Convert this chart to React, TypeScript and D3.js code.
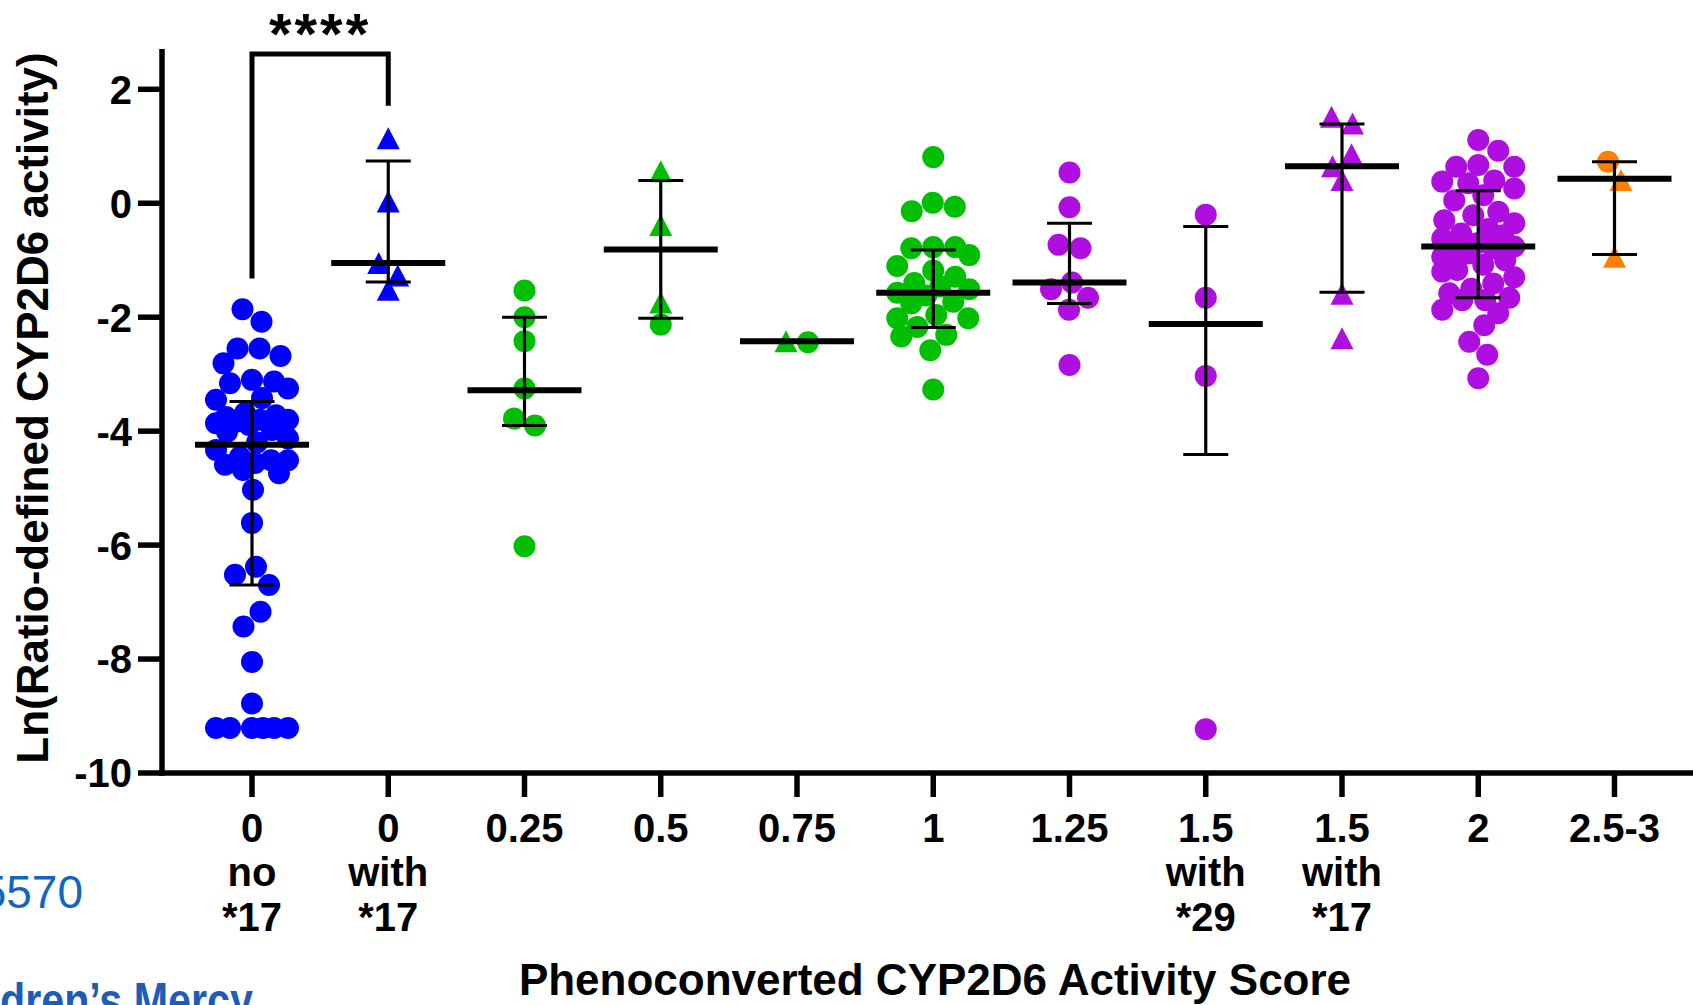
import React, { useEffect } from "react";
import * as d3 from "d3";

const W = 1693;
const H = 1005;

// ---------- categories & tick labels ----------
const categories = ["0no17", "0with17", "0.25", "0.5", "0.75", "1", "1.25", "1.5with29", "1.5with17", "2", "2.5-3"];
const labelLine1 = ["0", "0", "0.25", "0.5", "0.75", "1", "1.25", "1.5", "1.5", "2", "2.5-3"];
const labelLine2 = ["no", "with", "", "", "", "", "", "with", "with", "", ""];
const labelLine3 = ["*17", "*17", "", "", "", "", "", "*29", "*17", "", ""];
const yTicks = [2, 0, -2, -4, -6, -8, -10];

// ---------- individual values: Ln(ratio-defined CYP2D6 activity) ----------
const as0No17Circles = [
  -1.86, -2.08, -2.55, -2.55, -2.68, -2.81, -3.10, -3.13, -3.16, -3.25, -3.42, -3.45,
  -3.68, -3.72, -3.75, -3.80, -3.80, -3.83, -3.86, -3.89, -3.98, -4.01, -4.13, -4.20,
  -4.33, -4.45, -4.51, -4.51, -4.56, -4.59, -4.68, -4.74, -5.03,
  -5.61, -6.38, -6.52, -6.70, -7.17, -7.43, -8.05, -8.78,
  -9.21, -9.21, -9.21, -9.21, -9.21, -9.21,
];
const as0With17Triangles = [1.14, 0.03, -1.05, -1.27, -1.52];
const as025Circles = [-1.53, -2.0, -2.42, -3.25, -3.78, -3.9, -6.02];
const as05Triangles = [0.56, -0.38, -1.74];
const as05Circles = [-2.13];
const as075Circles = [-2.44];
const as075Triangles = [-2.42];
const as1Circles = [
  0.81, 0.01, -0.06, -0.14, -0.77, -0.77, -0.79, -0.91, -1.1, -1.18, -1.29, -1.4, -1.46,
  -1.51, -1.57, -1.62, -1.73, -1.76, -1.96, -2.02, -2.02, -2.17, -2.31, -2.34, -2.58, -3.27,
];
const as125Circles = [0.54, -0.07, -0.73, -0.79, -1.39, -1.51, -1.66, -1.87, -2.84];
const as15With29Circles = [-0.2, -1.66, -3.03, -9.23];
const as15With17Triangles = [1.52, 1.4, 0.86, 0.65, 0.41, -1.59, -2.37];
const as2Circles = [
  1.11, 0.92, 0.67, 0.64, 0.64, 0.4, 0.38, 0.35, 0.26, 0.14, 0.05, -0.15, -0.21, -0.3,
  -0.35, -0.45, -0.53, -0.56, -0.62, -0.7, -0.76, -0.79, -0.82, -0.88, -0.94, -1.0, -1.08,
  -1.17, -1.2, -1.3, -1.41, -1.5, -1.58, -1.66, -1.7, -1.7, -1.87, -1.93, -2.14, -2.43,
  -2.66, -3.07,
];
const as25to3Circles = [0.73];
const as25to3Triangles = [0.41, -0.94];

// ---------- summary statistics (median and interquartile range) ----------
const medians = [-4.24, -1.05, -3.28, -0.81, -2.42, -1.57, -1.39, -2.12, 0.65, -0.76, 0.43];
const upperQuartiles = [-3.48, 0.74, -2.0, 0.4, -2.42, -0.82, -0.35, -0.41, 1.39, 0.22, 0.73];
const lowerQuartiles = [-6.7, -1.38, -3.9, -2.02, -2.42, -2.18, -1.76, -4.41, -1.56, -1.66, -0.9];

// ---------- significance annotation ----------
const bracketFrom = 0;
const bracketTo = 1;
const bracketTopValue = 2.62;
const bracketLeftEnd = -1.32;
const bracketRightEnd = 1.71;
const significanceLabel = "****";

// ---------- colours ----------
const BLUE = "#0000ff";
const GREEN = "#00bf00";
const PURPLE = "#ae0ee0";
const ORANGE = "#ff8000";

const groupSpecs = [
  { circles: as0No17Circles, triangles: [] as number[], color: BLUE },
  { circles: [] as number[], triangles: as0With17Triangles, color: BLUE },
  { circles: as025Circles, triangles: [] as number[], color: GREEN },
  { circles: as05Circles, triangles: as05Triangles, color: GREEN },
  { circles: as075Circles, triangles: as075Triangles, color: GREEN },
  { circles: as1Circles, triangles: [] as number[], color: GREEN },
  { circles: as125Circles, triangles: [] as number[], color: PURPLE },
  { circles: as15With29Circles, triangles: [] as number[], color: PURPLE },
  { circles: [] as number[], triangles: as15With17Triangles, color: PURPLE },
  { circles: as2Circles, triangles: [] as number[], color: PURPLE },
  { circles: as25to3Circles, triangles: as25to3Triangles, color: ORANGE },
];

// ---------- layout ----------
const AXIS_X = 162;
const AXIS_Y = 773;
const AXIS_TOP = 49;
const FONT = "'Liberation Sans', Arial, Helvetica, sans-serif";

const x = d3.scalePoint<string>().domain(categories).range([252, 1614.5]).padding(0);
const y = d3.scaleLinear().domain([-10, 2]).range([AXIS_Y, 89.3]);

const R = 11;
const TRI_W = 23;
const TRI_H = 22;
const SWARM_D = 22;
const SWARM_MAX = 36;

type Pt = { v: number; py: number; shape: "c" | "t" };

function swarm(pts: Pt[], D: number, maxHalf: number): number[] {
  const order = pts.map((_, i) => i).sort((a, b) => pts[a].py - pts[b].py);
  const xs = new Array(pts.length).fill(0);
  const placed: number[] = [];
  let flip = 1;
  for (const i of order) {
    const py = pts[i].py;
    let best = 0;
    let bestScore = -Infinity;
    let found = false;
    for (let k = 0; k <= maxHalf && !found; k++) {
      const sides = k === 0 ? [0] : [flip, -flip];
      for (const s of sides) {
        const cx = s * k;
        let md = Infinity;
        for (const j of placed) {
          const d = Math.hypot(xs[j] - cx, pts[j].py - py);
          if (d < md) md = d;
        }
        if (md >= D) {
          best = cx;
          found = true;
          break;
        }
        if (md > bestScore + 1e-9) {
          bestScore = md;
          best = cx;
        }
      }
    }
    xs[i] = best;
    placed.push(i);
    if (best !== 0) flip = best > 0 ? -1 : 1;
  }
  // centre each touching cluster on the column axis
  const n = pts.length;
  const comp = new Array(n).fill(-1);
  let c = 0;
  for (let i = 0; i < n; i++) {
    if (comp[i] >= 0) continue;
    const stack = [i];
    comp[i] = c;
    while (stack.length) {
      const a = stack.pop()!;
      for (let b = 0; b < n; b++) {
        if (comp[b] < 0 && Math.hypot(xs[a] - xs[b], pts[a].py - pts[b].py) <= D * 1.05) {
          comp[b] = c;
          stack.push(b);
        }
      }
    }
    c++;
  }
  for (let k = 0; k < c; k++) {
    const idx = d3.range(n).filter((i) => comp[i] === k);
    const mid = ((d3.min(idx, (i) => xs[i]) as number) + (d3.max(idx, (i) => xs[i]) as number)) / 2;
    idx.forEach((i) => (xs[i] -= mid));
  }
  return xs;
}

function trianglePath(cx: number, cy: number) {
  const p = d3.path();
  p.moveTo(cx, cy - TRI_H / 2);
  p.lineTo(cx + TRI_W / 2, cy + TRI_H / 2);
  p.lineTo(cx - TRI_W / 2, cy + TRI_H / 2);
  p.closePath();
  return p.toString();
}

export default function App() {
  useEffect(() => {
    document.body.style.margin = "0";
  }, []);

  const groups = groupSpecs.map((g, gi) => {
    const pts: Pt[] = [
      ...g.circles.map((v) => ({ v, py: y(v), shape: "c" as const })),
      ...g.triangles.map((v) => ({ v, py: y(v), shape: "t" as const })),
    ];
    const offs = swarm(pts, SWARM_D, SWARM_MAX);
    const cx = x(categories[gi]) as number;
    return { pts, offs, cx, color: g.color };
  });

  const MED_HALF = 57;
  const CAP_HALF = 22.5;

  return (
    <svg
      width={W}
      height={H}
      viewBox={`0 0 ${W} ${H}`}
      style={{ position: "absolute", left: 0, top: 0, display: "block", background: "#fff" }}
      fontFamily={FONT}
    >
      <rect x={0} y={0} width={W} height={H} fill="#fff" />

      {/* points */}
      {groups.map((g, gi) => (
        <g key={"pts" + gi} fill={g.color}>
          {g.pts.map((p, i) =>
            p.shape === "c" ? (
              <circle key={i} cx={g.cx + g.offs[i]} cy={p.py} r={R} />
            ) : (
              <path key={i} d={trianglePath(g.cx + g.offs[i], p.py)} />
            )
          )}
        </g>
      ))}

      {/* median & IQR */}
      {categories.map((c, i) => {
        const cx = x(c) as number;
        const hasBar = upperQuartiles[i] !== lowerQuartiles[i];
        return (
          <g key={"st" + i} stroke="#000">
            {hasBar && (
              <>
                <line x1={cx} x2={cx} y1={y(upperQuartiles[i])} y2={y(lowerQuartiles[i])} strokeWidth={3.2} />
                <line x1={cx - CAP_HALF} x2={cx + CAP_HALF} y1={y(upperQuartiles[i])} y2={y(upperQuartiles[i])} strokeWidth={3} />
                <line x1={cx - CAP_HALF} x2={cx + CAP_HALF} y1={y(lowerQuartiles[i])} y2={y(lowerQuartiles[i])} strokeWidth={3} />
              </>
            )}
            <line x1={cx - MED_HALF} x2={cx + MED_HALF} y1={y(medians[i])} y2={y(medians[i])} strokeWidth={6} />
          </g>
        );
      })}

      {/* axes */}
      <g stroke="#000" strokeWidth={5.5} fill="none">
        <line x1={AXIS_X} x2={AXIS_X} y1={AXIS_TOP} y2={AXIS_Y + 2.75} />
        <line x1={AXIS_X - 2.75} x2={W + 10} y1={AXIS_Y} y2={AXIS_Y} />
        {yTicks.map((t) => (
          <line key={"yt" + t} x1={AXIS_X - 24} x2={AXIS_X} y1={y(t)} y2={y(t)} />
        ))}
        {categories.map((c) => (
          <line key={"xt" + c} x1={x(c) as number} x2={x(c) as number} y1={AXIS_Y} y2={AXIS_Y + 24} />
        ))}
      </g>

      {/* y tick labels */}
      <g fontSize={40} fontWeight="bold" textAnchor="end" fill="#000">
        {yTicks.map((t) => (
          <text key={"yl" + t} x={AXIS_X - 30} y={y(t)} dy="0.36em">
            {t}
          </text>
        ))}
      </g>

      {/* x tick labels */}
      <g fontSize={40} fontWeight="bold" textAnchor="middle" fill="#000">
        {categories.map((c, i) => (
          <g key={"xl" + c}>
            <text x={x(c) as number} y={842}>{labelLine1[i]}</text>
            {labelLine2[i] && <text x={x(c) as number} y={886}>{labelLine2[i]}</text>}
            {labelLine3[i] && <text x={x(c) as number} y={931}>{labelLine3[i]}</text>}
          </g>
        ))}
      </g>

      {/* axis titles */}
      <text x={935} y={995} fontSize={44} fontWeight="bold" textAnchor="middle" fill="#000">
        Phenoconverted CYP2D6 Activity Score
      </text>
      <text
        transform={`translate(48, 408) rotate(-90)`}
        fontSize={44}
        fontWeight="bold"
        textAnchor="middle"
        fill="#000"
      >
        Ln(Ratio-defined CYP2D6 activity)
      </text>

      {/* significance bracket */}
      {(() => {
        const x1 = x(categories[bracketFrom]) as number;
        const x2 = x(categories[bracketTo]) as number;
        const p = d3.path();
        p.moveTo(x1, y(bracketLeftEnd));
        p.lineTo(x1, y(bracketTopValue));
        p.lineTo(x2, y(bracketTopValue));
        p.lineTo(x2, y(bracketRightEnd));
        return (
          <g>
            <path d={p.toString()} fill="none" stroke="#000" strokeWidth={5} />
            <text x={(x1 + x2) / 2} y={54} fontSize={58} fontWeight="bold" textAnchor="middle" letterSpacing={3}>
              {significanceLabel}
            </text>
          </g>
        );
      })()}

      {/* cropped slide remnants */}
      <text x={83} y={908} fontSize={46} textAnchor="end" fill="#1565c0">
        5570
      </text>
      <text
        x={-78}
        y={1018}
        fontSize={50}
        fontWeight="bold"
        fill="#1f5cb8"
        textLength={331}
        lengthAdjust="spacingAndGlyphs"
      >
        Children’s Mercy
      </text>
    </svg>
  );
}
